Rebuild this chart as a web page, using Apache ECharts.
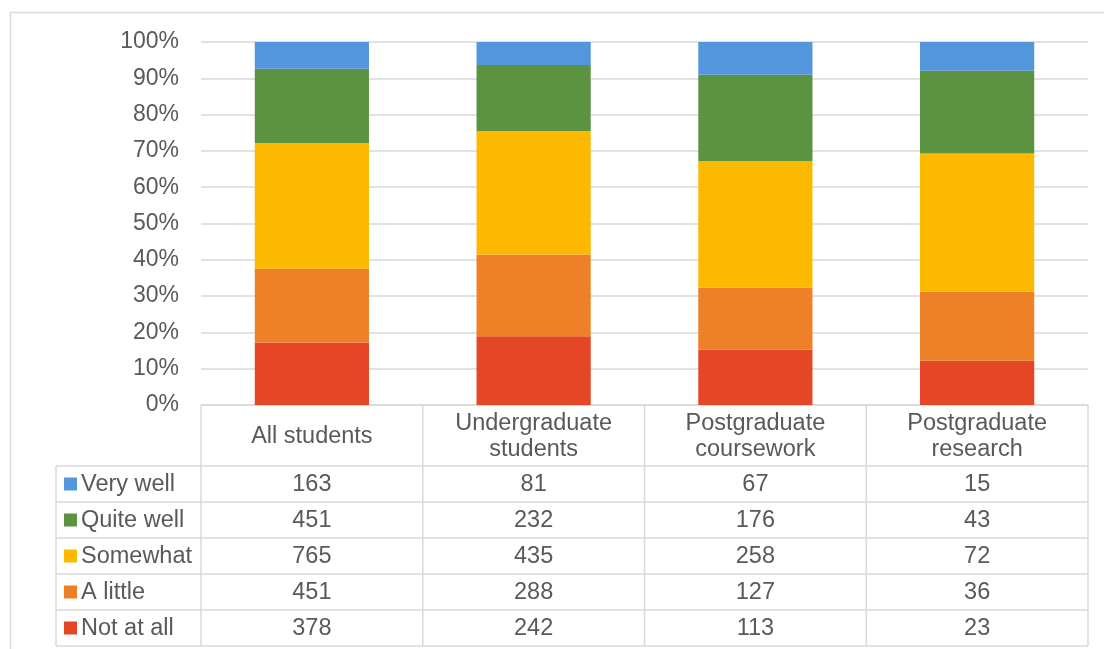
<!DOCTYPE html>
<html>
<head>
<meta charset="utf-8">
<script src="https://cdn.jsdelivr.net/npm/echarts@6/dist/echarts.min.js"></script>
<style>
  html, body { margin: 0; padding: 0; background: #fff; }
  #main { width: 1104px; height: 649px; }
</style>
</head>
<body>
<div id="main"></div>
<script>
// categories (table header, two lines where wrapped)
var categories = ["All students", "Undergraduate\nstudents", "Postgraduate\ncoursework", "Postgraduate\nresearch"];
// response counts per category
var veryWell = [163, 81, 67, 15];
var quiteWell = [451, 232, 176, 43];
var somewhat = [765, 435, 258, 72];
var aLittle = [451, 288, 127, 36];
var notAtAll = [378, 242, 113, 23];
var yTicks = [0, 10, 20, 30, 40, 50, 60, 70, 80, 90, 100];

// stacking order bottom -> top
var seriesList = [
  { name: "Not at all", data: notAtAll, color: "#E54626" },
  { name: "A little", data: aLittle, color: "#EE8128" },
  { name: "Somewhat", data: somewhat, color: "#FDB800" },
  { name: "Quite well", data: quiteWell, color: "#5C9340" },
  { name: "Very well", data: veryWell, color: "#5396DB" }
];

// totals for the 100% stack
var totals = categories.map(function (c, i) {
  return seriesList.reduce(function (s, ser) { return s + ser.data[i]; }, 0);
});

var font = "Arial, 'Liberation Sans', sans-serif";
var textColor = "#595959";
var lineColor = "#D9D9D9";
var tableFont = "23.5px " + font;

// layout of plot and table
var plotLeft = 201, plotRight = 1088, plotTop = 42, plotBottom = 405;
var headerBottom = 466, rowH = 36, labelLeft = 56;
var colW = (plotRight - plotLeft) / categories.length;

var myChart = echarts.init(document.getElementById("main"));

var graphics = [];
// outer chart border
graphics.push({ type: "rect", shape: { x: 10.5, y: 12.5, width: 1120, height: 700 },
  style: { fill: "none", stroke: lineColor, lineWidth: 1.5 }, silent: true });

function hline(x1, x2, y) {
  graphics.push({ type: "line", shape: { x1: x1, y1: y, x2: x2, y2: y },
    style: { stroke: lineColor, lineWidth: 1.5 }, silent: true });
}
function vline(x, y1, y2) {
  graphics.push({ type: "line", shape: { x1: x, y1: y1, x2: x, y2: y2 },
    style: { stroke: lineColor, lineWidth: 1.5 }, silent: true });
}

// table lines
var tableBottom = headerBottom + rowH * seriesList.length;
hline(plotLeft, plotRight, plotBottom);
for (var r = 0; r <= seriesList.length; r++) {
  hline(labelLeft, plotRight, headerBottom + r * rowH);
}
for (var c = 0; c <= categories.length; c++) {
  vline(plotLeft + c * colW, plotBottom, tableBottom);
}
vline(labelLeft, headerBottom, tableBottom);

// header text
categories.forEach(function (cat, i) {
  graphics.push({ type: "text", x: plotLeft + (i + 0.5) * colW, y: (plotBottom + headerBottom) / 2 + 1,
    style: { text: cat, fill: textColor, font: tableFont, align: "center",
      verticalAlign: "middle", lineHeight: 26 }, silent: true });
});

// rows: top row is the top-most series
var rows = seriesList.slice().reverse();
rows.forEach(function (ser, r) {
  var yMid = headerBottom + r * rowH + rowH / 2;
  graphics.push({ type: "rect", shape: { x: 64, y: yMid - 6.5, width: 13, height: 13 },
    style: { fill: ser.color }, silent: true });
  graphics.push({ type: "text", x: 81, y: yMid + 1,
    style: { text: ser.name, fill: textColor, font: tableFont, align: "left",
      verticalAlign: "middle" }, silent: true });
  ser.data.forEach(function (v, i) {
    graphics.push({ type: "text", x: plotLeft + (i + 0.5) * colW, y: yMid + 1,
      style: { text: String(v), fill: textColor, font: tableFont, align: "center",
        verticalAlign: "middle" }, silent: true });
  });
});

var option = {
  animation: false,
  backgroundColor: "#fff",
  grid: { left: plotLeft, right: 1104 - plotRight, top: plotTop, bottom: 649 - plotBottom, containLabel: false },
  xAxis: {
    type: "category",
    data: categories,
    axisLine: { show: false },
    axisTick: { show: false },
    axisLabel: { show: false }
  },
  yAxis: {
    type: "value",
    min: yTicks[0],
    max: yTicks[yTicks.length - 1],
    interval: 10,
    axisLine: { show: false },
    axisTick: { show: false },
    axisLabel: { formatter: "{value}%", color: textColor, fontSize: 23, fontFamily: font, margin: 22 },
    splitLine: { lineStyle: { color: lineColor, width: 1.5 } }
  },
  series: seriesList.map(function (ser) {
    return {
      name: ser.name,
      type: "bar",
      stack: "total",
      barWidth: "51.5%",
      itemStyle: { color: ser.color },
      data: ser.data.map(function (v, i) { return v / totals[i] * 100; })
    };
  }),
  graphic: graphics
};

myChart.setOption(option);
</script>
</body>
</html>
